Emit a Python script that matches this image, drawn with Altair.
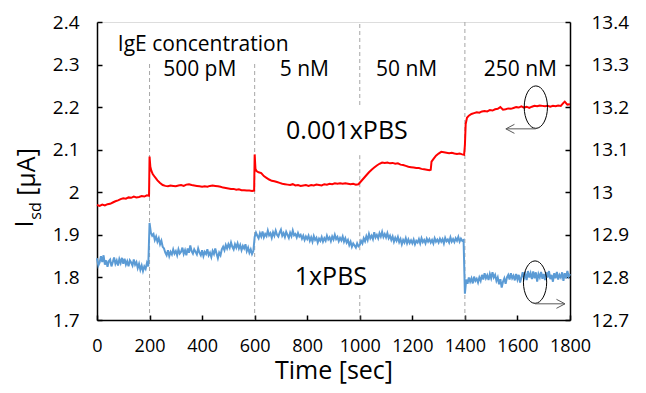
import altair as alt
import pandas as pd

FONT = "Open Sans"

# 0.001xPBS trace (left axis, uA): (time sec, Isd)
red_points = [
    (0, 1.970), (10, 1.968), (20, 1.971), (30, 1.969), (40, 1.972), (50, 1.973), (60, 1.976),
    (70, 1.979), (80, 1.981), (90, 1.984), (100, 1.986), (110, 1.985), (120, 1.988), (130, 1.987),
    (140, 1.990), (150, 1.988), (160, 1.989), (170, 1.991), (180, 1.990), (190, 1.993), (198, 1.992),
    (200, 2.084), (203, 2.060), (207, 2.050), (212, 2.043), (220, 2.036), (230, 2.028), (240, 2.022),
    (250, 2.017), (260, 2.015), (270, 2.014), (280, 2.016), (290, 2.015), (300, 2.014), (310, 2.016),
    (320, 2.017), (330, 2.015), (340, 2.018), (350, 2.019), (360, 2.017), (370, 2.016), (380, 2.015),
    (390, 2.014), (400, 2.013), (410, 2.014), (420, 2.013), (430, 2.015), (440, 2.016), (450, 2.015),
    (460, 2.014), (470, 2.013), (480, 2.011), (490, 2.010), (500, 2.009), (510, 2.008), (520, 2.008),
    (530, 2.006), (540, 2.007), (550, 2.005), (560, 2.005), (570, 2.004), (580, 2.004), (590, 2.003),
    (598, 2.004), (600, 2.089), (603, 2.055), (607, 2.050), (615, 2.047), (625, 2.045), (635, 2.038),
    (645, 2.034), (655, 2.030), (665, 2.027), (675, 2.026), (685, 2.024), (695, 2.022), (705, 2.020),
    (715, 2.019), (725, 2.018), (735, 2.017), (745, 2.019), (755, 2.016), (765, 2.017), (775, 2.015),
    (785, 2.016), (795, 2.017), (805, 2.015), (815, 2.017), (825, 2.016), (835, 2.018), (845, 2.017),
    (855, 2.016), (865, 2.019), (875, 2.018), (885, 2.020), (895, 2.019), (905, 2.021), (915, 2.020),
    (925, 2.021), (935, 2.020), (945, 2.021), (955, 2.020), (965, 2.019), (975, 2.020), (985, 2.018),
    (995, 2.019), (1005, 2.026), (1015, 2.033), (1025, 2.040), (1035, 2.047), (1045, 2.053),
    (1055, 2.058), (1065, 2.063), (1075, 2.067), (1085, 2.070), (1095, 2.069), (1105, 2.070),
    (1115, 2.068), (1125, 2.069), (1135, 2.067), (1145, 2.068), (1155, 2.065), (1165, 2.064),
    (1175, 2.062), (1185, 2.060), (1195, 2.059), (1205, 2.058), (1215, 2.057), (1225, 2.057),
    (1235, 2.055), (1245, 2.054), (1255, 2.053), (1265, 2.052), (1270, 2.053), (1273, 2.072),
    (1280, 2.078), (1290, 2.086), (1300, 2.091), (1310, 2.095), (1320, 2.094), (1330, 2.093),
    (1340, 2.092), (1350, 2.093), (1360, 2.091), (1370, 2.090), (1380, 2.091), (1390, 2.089),
    (1397, 2.088), (1400, 2.110), (1403, 2.160), (1408, 2.175), (1415, 2.180), (1425, 2.184),
    (1435, 2.186), (1445, 2.188), (1455, 2.187), (1465, 2.190), (1475, 2.191), (1485, 2.190),
    (1495, 2.193), (1505, 2.192), (1515, 2.195), (1525, 2.196), (1535, 2.200), (1545, 2.194),
    (1555, 2.195), (1565, 2.197), (1575, 2.196), (1585, 2.198), (1595, 2.200), (1605, 2.199),
    (1615, 2.202), (1625, 2.199), (1635, 2.201), (1645, 2.198), (1655, 2.201), (1665, 2.203),
    (1675, 2.202), (1685, 2.204), (1695, 2.203), (1705, 2.202), (1715, 2.203), (1725, 2.201),
    (1735, 2.203), (1745, 2.202), (1755, 2.204), (1765, 2.203), (1775, 2.210), (1780, 2.213),
    (1790, 2.206), (1800, 2.207),
]

# 1xPBS trace (right axis, uA), sampled every 5 s; one row per 100 s block
BLUE_STEP = 5
blue_blocks = [
    [12.845, 12.828, 12.835, 12.850, 12.836, 12.852, 12.830, 12.840, 12.825, 12.838,
     12.842, 12.826, 12.836, 12.847, 12.832, 12.840, 12.828, 12.843, 12.834, 12.846],
    [12.832, 12.844, 12.830, 12.838, 12.826, 12.840, 12.835, 12.828, 12.842, 12.830,
     12.836, 12.822, 12.832, 12.818, 12.828, 12.815, 12.826, 12.820, 12.834, 12.826],
    [12.928, 12.905, 12.898, 12.902, 12.888, 12.896, 12.884, 12.892, 12.878, 12.886,
     12.872, 12.868, 12.858, 12.852, 12.864, 12.850, 12.860, 12.854, 12.866, 12.856],
    [12.862, 12.852, 12.866, 12.856, 12.860, 12.870, 12.855, 12.864, 12.852, 12.868,
     12.858, 12.875, 12.862, 12.856, 12.866, 12.860, 12.854, 12.868, 12.858, 12.852],
    [12.864, 12.850, 12.860, 12.855, 12.866, 12.852, 12.858, 12.848, 12.862, 12.855,
     12.868, 12.856, 12.845, 12.858, 12.852, 12.866, 12.872, 12.864, 12.876, 12.868],
    [12.878, 12.870, 12.882, 12.872, 12.866, 12.878, 12.870, 12.880, 12.868, 12.876,
     12.864, 12.874, 12.868, 12.878, 12.862, 12.870, 12.858, 12.866, 12.855, 12.862],
    [12.895, 12.905, 12.898, 12.892, 12.904, 12.896, 12.908, 12.894, 12.902, 12.897,
     12.910, 12.899, 12.904, 12.893, 12.906, 12.898, 12.910, 12.900, 12.896, 12.905],
    [12.912, 12.898, 12.904, 12.895, 12.907, 12.900, 12.893, 12.905, 12.897, 12.910,
     12.899, 12.902, 12.894, 12.904, 12.896, 12.900, 12.891, 12.898, 12.888, 12.896],
    [12.890, 12.898, 12.886, 12.894, 12.884, 12.897, 12.888, 12.893, 12.882, 12.891,
     12.886, 12.895, 12.884, 12.892, 12.886, 12.898, 12.889, 12.894, 12.885, 12.896],
    [12.889, 12.900, 12.890, 12.895, 12.885, 12.893, 12.887, 12.896, 12.884, 12.892,
     12.882, 12.888, 12.876, 12.884, 12.872, 12.880, 12.875, 12.870, 12.880, 12.873],
    [12.876, 12.886, 12.880, 12.892, 12.885, 12.897, 12.888, 12.902, 12.892, 12.898,
     12.890, 12.906, 12.894, 12.900, 12.892, 12.904, 12.896, 12.907, 12.895, 12.902],
    [12.894, 12.904, 12.892, 12.898, 12.888, 12.896, 12.884, 12.893, 12.886, 12.895,
     12.883, 12.890, 12.878, 12.888, 12.882, 12.892, 12.880, 12.889, 12.881, 12.887],
    [12.880, 12.889, 12.878, 12.886, 12.882, 12.890, 12.880, 12.892, 12.883, 12.888,
     12.880, 12.891, 12.884, 12.890, 12.882, 12.888, 12.880, 12.892, 12.884, 12.889],
    [12.882, 12.891, 12.884, 12.890, 12.880, 12.893, 12.885, 12.889, 12.882, 12.894,
     12.884, 12.890, 12.883, 12.892, 12.886, 12.895, 12.884, 12.891, 12.886, 12.888],
    [12.762, 12.795, 12.785, 12.800, 12.790, 12.798, 12.786, 12.802, 12.792, 12.797,
     12.788, 12.800, 12.792, 12.806, 12.795, 12.810, 12.798, 12.805, 12.794, 12.808],
    [12.798, 12.812, 12.800, 12.806, 12.792, 12.800, 12.784, 12.796, 12.776, 12.790,
     12.798, 12.785, 12.800, 12.806, 12.795, 12.810, 12.798, 12.804, 12.793, 12.808],
    [12.795, 12.806, 12.788, 12.800, 12.812, 12.798, 12.808, 12.794, 12.815, 12.800,
     12.810, 12.796, 12.814, 12.798, 12.812, 12.790, 12.808, 12.800, 12.813, 12.797],
    [12.808, 12.794, 12.812, 12.800, 12.815, 12.796, 12.806, 12.790, 12.810, 12.798,
     12.813, 12.795, 12.806, 12.800, 12.812, 12.792, 12.810, 12.798, 12.815, 12.802],
    [12.808],
]

x_ticks = [0, 200, 400, 600, 800, 1000, 1200, 1400, 1600, 1800]
left_ticks = [1.7, 1.8, 1.9, 2.0, 2.1, 2.2, 2.3, 2.4]
right_ticks = [12.7, 12.8, 12.9, 13.0, 13.1, 13.2, 13.3, 13.4]

# injection marks (dashed), drawn as visible pieces: (time, from, to) on left axis
inj_segments = [
    (200, 1.7, 2.306), (600, 1.7, 2.306),
    (1000, 2.205, 2.4), (1000, 1.864, 2.088), (1000, 1.7, 1.766),
    (1400, 1.7, 2.4),
]

# text labels on left axis: (time, value, text, font size)
labels = [
    (404, 2.346, "IgE concentration", 21),
    (391, 2.287, "500 pM", 21),
    (789, 2.287, "5 nM", 21),
    (1178, 2.287, "50 nM", 21),
    (1611, 2.287, "250 nM", 21),
    (951, 2.144, "0.001xPBS", 25),
    (890, 1.801, "1xPBS", 25),
]

# ellipse + arrow annotations
ell_left = [(1670, 2.200)]
arrow_left = [(1670, 1556, 2.149)]
ell_right = [(1667, 12.789)]
arrow_right = [(1667, 1781, 12.738)]

red_df = pd.DataFrame(red_points, columns=["t", "v"])
blue_rows = []
for bi, block in enumerate(blue_blocks):
    for i, val in enumerate(block):
        blue_rows.append((bi * 100 + i * BLUE_STEP, val))
blue_df = pd.DataFrame(blue_rows, columns=["t", "v"])
seg_df = pd.DataFrame(inj_segments, columns=["t", "v", "v2"])
lab_df = pd.DataFrame(labels, columns=["t", "v", "label", "fs"])
ellL_df = pd.DataFrame(ell_left, columns=["t", "v"])
ellR_df = pd.DataFrame(ell_right, columns=["t", "v"])
arrL_df = pd.DataFrame(arrow_left, columns=["t", "t2", "v"])
arrR_df = pd.DataFrame(arrow_right, columns=["t", "t2", "v"])

axis_common = dict(
    labelFont=FONT, labelColor="black",
    domainColor="black", domainWidth=1.5, tickColor="black", tickWidth=1.5,
    tickSize={"expr": "-5"}, grid=False, labelOverlap=False, labelFlush=False,
)

x_scale = alt.Scale(domain=[0, 1800], nice=False, zero=False)
x_enc = alt.X(
    "t:Q", scale=x_scale,
    axis=alt.Axis(values=x_ticks, format="d", title="Time [sec]", titleFont=FONT,
                  titleFontSize=25, titleFontWeight="normal", titleColor="black",
                  titlePadding=3, labelPadding=22, labelFontSize=18, **axis_common),
)
yL = alt.Y(
    "v:Q",
    scale=alt.Scale(domain=[1.7, 2.4], nice=False, zero=False),
    axis=alt.Axis(values=left_ticks, format=".2~f", title="", orient="left",
                  labelPadding=23, labelFontSize=19, **axis_common),
)
yR = alt.Y(
    "v:Q",
    scale=alt.Scale(domain=[12.7, 13.4], nice=False, zero=False),
    axis=alt.Axis(values=right_ticks, format=".2~f", title="", orient="right",
                  labelPadding=26, labelFontSize=19, **axis_common),
)

ELLIPSE = "M0,-1 A0.548,1 0 1,1 0,1 A0.548,1 0 1,1 0,-1 Z"
HEAD_L = "M1.9,-1 L0,0 L1.9,1"
HEAD_R = "M-1.9,-1 L0,0 L-1.9,1"

rules = alt.Chart(seg_df).mark_rule(color="#A6A6A6", strokeWidth=1, strokeDash=[4, 3]).encode(
    x=x_enc, y=yL, y2="v2:Q")
red = alt.Chart(red_df).mark_line(color="#FF0000", strokeWidth=2).encode(x=x_enc, y=yL)
texts = alt.Chart(lab_df).mark_text(font=FONT, color="black", align="center", baseline="middle").encode(
    x=x_enc, y=yL, text="label:N", size=alt.Size("fs:Q", scale=None, legend=None))
ellL = alt.Chart(ellL_df).mark_point(shape=ELLIPSE, size=1800, filled=False, stroke="black",
                                     strokeWidth=1, opacity=1).encode(x=x_enc, y=yL)
arrL = alt.Chart(arrL_df).mark_rule(color="#595959", strokeWidth=1).encode(x=x_enc, x2="t2:Q", y=yL)
headL = alt.Chart(arrL_df).mark_point(shape=HEAD_L, size=81, filled=False, stroke="#595959",
                                      strokeWidth=1, opacity=1).encode(
    x=alt.X("t2:Q", scale=x_scale), y=yL)

# custom y title with subscript
title_df = pd.DataFrame({"k": [0]})
tI = alt.Chart(title_df).mark_text(text="I", font=FONT, fontSize=25, angle=270, align="center",
                                   baseline="middle", color="black").encode(
    x=alt.value(-72), y=alt.value(202))
tsd = alt.Chart(title_df).mark_text(text="sd", font=FONT, fontSize=16, angle=270, align="center",
                                    baseline="middle", color="black").encode(
    x=alt.value(-61), y=alt.value(189))
tua = alt.Chart(title_df).mark_text(text="[μA]", font=FONT, fontSize=25, angle=270, align="center",
                                    baseline="middle", color="black").encode(
    x=alt.value(-70), y=alt.value(150))

left = alt.layer(rules, red, texts, ellL, arrL, headL, tI, tsd, tua)

blue = alt.Chart(blue_df).mark_line(color="#5B9BD5", strokeWidth=2).encode(x=x_enc, y=yR)
ellR = alt.Chart(ellR_df).mark_point(shape=ELLIPSE, size=1800, filled=False, stroke="black",
                                     strokeWidth=1, opacity=1).encode(x=x_enc, y=yR)
arrR = alt.Chart(arrR_df).mark_rule(color="#595959", strokeWidth=1).encode(x=x_enc, x2="t2:Q", y=yR)
headR = alt.Chart(arrR_df).mark_point(shape=HEAD_R, size=81, filled=False, stroke="#595959",
                                      strokeWidth=1, opacity=1).encode(
    x=alt.X("t2:Q", scale=x_scale), y=yR)

right = alt.layer(blue, ellR, arrR, headR)

chart = alt.layer(left, right).resolve_scale(y="independent").properties(
    width=473, height=298,
    autosize=alt.AutoSizeParams(type="none"),
    padding={"left": 89, "top": 14, "right": 68, "bottom": 66},
).configure_view(stroke="black", strokeWidth=1.5).configure(background="white")

chart.save("out.html", embed_options={"renderer": "svg", "actions": False})
